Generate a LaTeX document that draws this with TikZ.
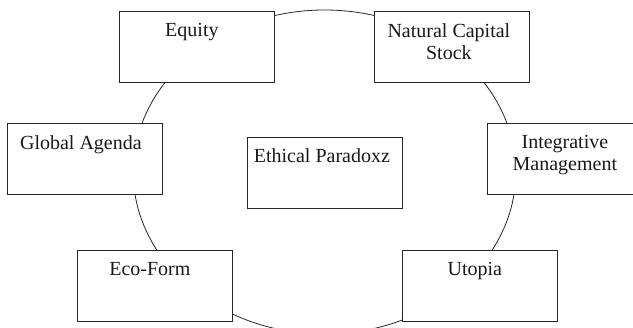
\documentclass[tikz,border=0pt]{standalone}
\usepackage{fontspec}
\setmainfont{Liberation Serif}
\usetikzlibrary{shapes.geometric}
\begin{document}
\begin{tikzpicture}[x=1pt,y=-1pt,
  ln/.style={draw=black!85, line width=0.8pt},
  box/.style={ln, fill=white, minimum width=155pt, minimum height=71pt, inner sep=0pt, anchor=north west},
  lbl/.style={anchor=north, inner sep=0pt, align=center, font=\fontsize{20}{22}\selectfont, text=black!90}]
\useasboundingbox (0,0) rectangle (633,328);
\node[ln, ellipse, minimum width=382.6pt, minimum height=324pt, inner sep=0pt] (ring) at (324.5,172) {};
\node[box] (equity) at (119,11) {};
\node[box] (ncs) at (374,11) {};
\node[box] (global) at (7,123) {};
\node[box] (ethic) at (247,137) {};
\node[box] (integ) at (487,123) {};
\node[box] (eco) at (77,250) {};
\node[box] (utopia) at (402,250) {};
\node[lbl] (tequity) at ([xshift=-5pt,yshift=-12pt]equity.north) {Equity};
\node[lbl] (tncs) at ([xshift=-3pt,yshift=-12pt]ncs.north) {Natural Capital\\Stock};
\node[lbl] (tglobal) at ([xshift=-4pt,yshift=-12pt]global.north) {Global Agenda};
\node[lbl] (tethic) at ([xshift=-3pt,yshift=-11pt]ethic.north) {Ethical Paradoxz};
\node[lbl] (tinteg) at ([xshift=0pt,yshift=-12pt]integ.north) {Integrative\\Management};
\node[lbl] (teco) at ([xshift=-5pt,yshift=-12pt]eco.north) {Eco-Form};
\node[lbl] (tutopia) at ([xshift=-5pt,yshift=-12pt]utopia.north) {Utopia};
\end{tikzpicture}
\end{document}
